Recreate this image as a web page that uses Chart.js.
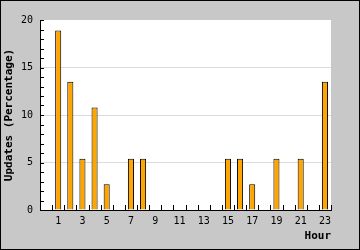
<!DOCTYPE html>
<html>
<head>
<meta charset="utf-8">
<script src="https://cdn.jsdelivr.net/npm/chart.js@4"></script>
<style>
  html, body { margin: 0; padding: 0; background: #c8c8c8; }
  #wrap { width: 360px; height: 250px; }
</style>
</head>
<body>
<div id="wrap"><canvas id="myChart" width="360" height="250"></canvas></div>
<script>
// hours of the day
const hours = ['0','1','2','3','4','5','6','7','8','9','10','11','12','13','14','15','16','17','18','19','20','21','22','23'];
// percentage of updates per hour
const updates = [0, 18.9, 13.5, 5.4, 10.8, 2.7, 0, 5.4, 5.4, 0, 0, 0, 0, 0, 0, 5.4, 5.4, 2.7, 0, 5.4, 0, 5.4, 0, 13.5];
const yMin = 0;
const yMax = 20;

const monoFont = "'DejaVu Sans Mono', monospace";

// gray background, white plot area, black frame
const framePlugin = {
  id: 'frame',
  beforeDraw(chart) {
    const ctx = chart.ctx;
    const a = chart.chartArea;
    ctx.save();
    ctx.fillStyle = '#c8c8c8';
    ctx.fillRect(0, 0, chart.width, chart.height);
    ctx.fillStyle = '#ffffff';
    ctx.fillRect(a.left, a.top, a.right - a.left, a.bottom - a.top);
    ctx.restore();
  },
  afterDraw(chart) {
    const ctx = chart.ctx;
    const a = chart.chartArea;
    const xs = chart.scales.x;
    const ys = chart.scales.y;
    ctx.save();
    ctx.strokeStyle = '#000';
    ctx.lineWidth = 1;
    ctx.beginPath();
    // small inner ticks on y axis
    ys.ticks.forEach(t => {
      const y = Math.round(ys.getPixelForValue(t.value)) + 0.5;
      ctx.moveTo(a.left, y);
      ctx.lineTo(a.left + 4, y);
    });
    // small inner ticks on x axis, at category boundaries
    const w = xs.getPixelForValue(1) - xs.getPixelForValue(0);
    for (let i = 0; i <= hours.length; i++) {
      const x = Math.round(xs.getPixelForValue(i) - w / 2) + 0.5;
      ctx.moveTo(x, a.bottom);
      ctx.lineTo(x, a.bottom - 5);
    }
    ctx.stroke();
    ctx.strokeRect(0.5, 0.5, chart.width - 1, chart.height - 1);
    ctx.restore();
  }
};

const myChart = new Chart(document.getElementById('myChart'), {
  type: 'bar',
  data: {
    labels: hours,
    datasets: [{
      data: updates,
      backgroundColor: '#ffa500',
      borderColor: '#000000',
      borderWidth: 1,
      categoryPercentage: 1,
      barPercentage: 0.5
    }]
  },
  options: {
    responsive: false,
    animation: false,
    layout: { padding: { left: 1, top: 20, right: 29, bottom: 1 } },
    plugins: {
      legend: { display: false },
      tooltip: { enabled: false }
    },
    scales: {
      x: {
        afterFit(scale) { scale.height = 39; },
        grid: { display: false, drawTicks: false },
        border: { display: true, color: '#000', width: 1 },
        ticks: {
          autoSkip: false,
          maxRotation: 0,
          padding: 5,
          color: '#000',
          font: { family: monoFont, size: 10 },
          callback: (v, i) => (i % 2 === 1 ? hours[i] : '')
        },
        title: {
          display: true,
          text: 'Hour',
          align: 'end',
          color: '#000',
          font: { family: monoFont, size: 11, weight: 'bold' },
          padding: { top: 0, bottom: 6 }
        }
      },
      y: {
        min: yMin,
        max: yMax,
        afterFit(scale) { scale.width = 39; },
        grid: {
          drawTicks: false,
          color: c => (c.tick && c.tick.value % 5 === 0 && c.tick.value > yMin && c.tick.value < yMax) ? '#dcdcdc' : 'rgba(0,0,0,0)'
        },
        border: { display: true, color: '#000', width: 1 },
        ticks: {
          stepSize: 1,
          autoSkip: false,
          padding: 7,
          color: '#000',
          font: { family: monoFont, size: 10 },
          callback: v => (v % 5 === 0 ? v : '')
        },
        title: {
          display: true,
          text: 'Updates (Percentage)',
          color: '#000',
          font: { family: monoFont, size: 11, weight: 'bold' },
          padding: { top: 2, bottom: 0 }
        }
      }
    }
  },
  plugins: [framePlugin]
});
</script>
</body>
</html>
